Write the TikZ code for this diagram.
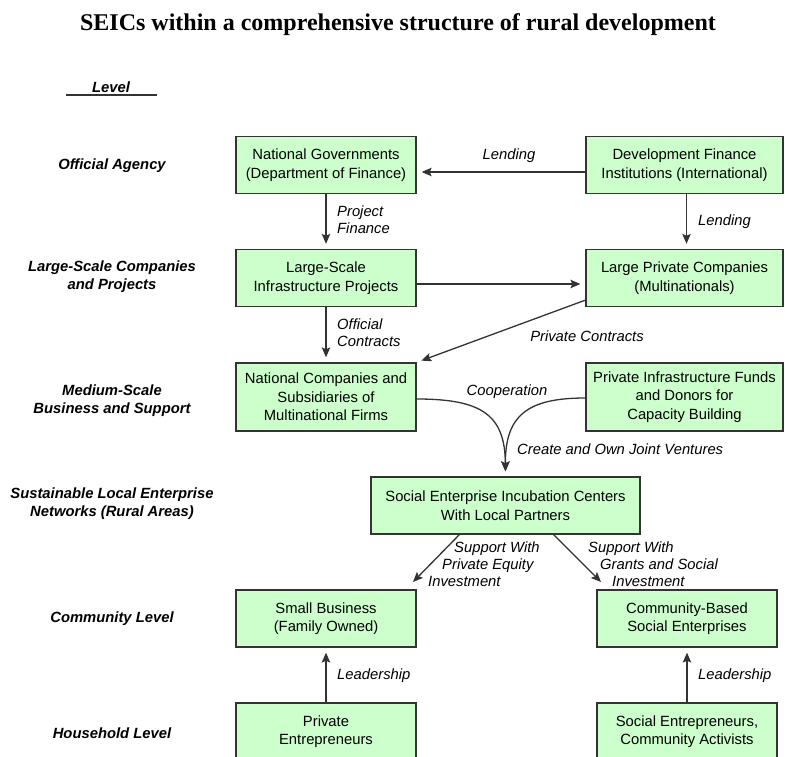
\documentclass[tikz,border=0pt]{standalone}
\usepackage{fontspec}
\setmainfont{Liberation Sans}
\newfontfamily\titlefont{Liberation Serif}
\usetikzlibrary{arrows.meta,calc}
\definecolor{boxfill}{HTML}{CCFFCC}
\definecolor{edge}{HTML}{333333}
\begin{document}
\begin{tikzpicture}[x=1pt,y=-1pt,
  box/.style={draw=edge, line width=1.3pt, fill=boxfill, minimum height=57pt,
    align=center, inner sep=0pt, font=\fontsize{14.8}{18.5}\selectfont},
  wbox/.style={box, minimum width=180pt},
  bbox/.style={box, minimum width=197pt},
  arr/.style={draw=edge, line width=1.3pt, -{Stealth[length=10pt,width=8.5pt,inset=2pt]}, shorten >=5pt},
  lbl/.style={font=\fontsize{14.8}{17}\selectfont\itshape, align=left, inner sep=0pt},
  lvl/.style={font=\fontsize{14.8}{18}\selectfont\bfseries\itshape, align=center, inner sep=0pt}]
\clip (0,0) rectangle (785,757);
\fill[white] (0,0) rectangle (785,757);

% title
\node[font=\titlefont\fontsize{24}{28}\selectfont\bfseries] (title) at (398,25) {SEICs within a comprehensive structure of rural development};

% levels
\node[lvl] (lvlhead) at (111,87) {Level};
\coordinate (ulA) at (66,95);
\coordinate (ulB) at (157,95);
\draw[line width=1.2pt, edge] (ulA) -- (ulB);
\node[lvl] (l1) at (112,166) {Official Agency};
\node[lvl] (l2) at (112,277) {Large-Scale Companies\\and Projects};
\node[lvl] (l3) at (112,401) {Medium-Scale\\Business and Support};
\node[lvl] (l4) at (112,504) {Sustainable Local Enterprise\\Networks (Rural Areas)};
\node[lvl] (l5) at (112,619) {Community Level};
\node[lvl] (l6) at (112,733) {Household Level};

% boxes
\node[wbox] (ng)  at (326,165) {National Governments\\(Department of Finance)};
\node[bbox] (dfi) at (684.5,165) {Development Finance\\Institutions (International)};
\node[wbox] (lsi) at (326,278) {Large-Scale\\Infrastructure Projects};
\node[bbox] (lpc) at (684.5,278) {Large Private Companies\\(Multinationals)};
\node[wbox, minimum height=68pt] (nc)  at (326,397) {National Companies and\\Subsidiaries of\\Multinational Firms};
\node[bbox, minimum height=68pt] (pif) at (684.5,397) {Private Infrastructure Funds\\and Donors for\\Capacity Building};
\node[box, minimum width=269pt] (seic) at (505.5,505.5) {Social Enterprise Incubation Centers\\With Local Partners};
\node[wbox] (sb) at (326,618.5) {Small Business\\(Family Owned)};
\node[wbox] (cb) at (687,618.5) {Community-Based\\Social Enterprises};
\node[wbox] (pe) at (326,731.5) {Private\\Entrepreneurs};
\node[wbox] (se) at (687,731.5) {Social Entrepreneurs,\\Community Activists};

% connectors
\draw[arr] ($(dfi.west)+(0,7)$) -- ($(ng.east)+(0,7)$);
\node[lbl] (lend1) at (509,156) {Lending};

\draw[arr] (ng.south) -- (lsi.north);
\node[lbl, anchor=west] (pf) at (337,220) {Project\\Finance};

\draw[arr] ($(dfi.south)+(2,0)$) -- ($(lpc.north)+(2,0)$);
\node[lbl, anchor=west] (lend2) at (698,222) {Lending};

\draw[arr] ($(lsi.east)+(0,6)$) -- ($(lpc.west)+(0,6)$);

\draw[arr] (lsi.south) -- (nc.north);
\node[lbl, anchor=west] (oc) at (337,333) {Official\\Contracts};

\draw[arr] ($(lpc.south west)+(0,-7)$) -- (nc.north east);
\node[lbl] (pc) at (587,336) {Private Contracts};

\draw[arr] ($(nc.east)+(0,2)$) .. controls (482,399) and (505,415) .. (seic.north);
\draw[arr] ($(pif.west)+(0,1)$) .. controls (528,398) and (505,415) .. (seic.north);
\node[lbl] (coop) at (507,392) {Cooperation};
\node[lbl, anchor=west] (cjv) at (517,449) {Create and Own Joint Ventures};

\coordinate (sL) at (460,534);
\coordinate (sR) at (553,534);
\draw[arr, shorten >=0pt] (sL) -- (413,582);
\draw[arr, shorten >=0pt] (sR) -- (601,582);
\node[lbl, anchor=north west] (spe) at (428,542) {\hspace*{26pt}Support With\\\hspace*{14pt}Private Equity\\Investment};
\node[lbl, anchor=north west] (sgs) at (588,542) {Support With\\\hspace*{12pt}Grants and Social\\\hspace*{24pt}Investment};

\draw[arr] (pe.north) -- (sb.south);
\node[lbl, anchor=west] (ld1) at (337,676) {Leadership};
\draw[arr] (se.north) -- (cb.south);
\node[lbl, anchor=west] (ld2) at (698,676) {Leadership};
\end{tikzpicture}
\end{document}
